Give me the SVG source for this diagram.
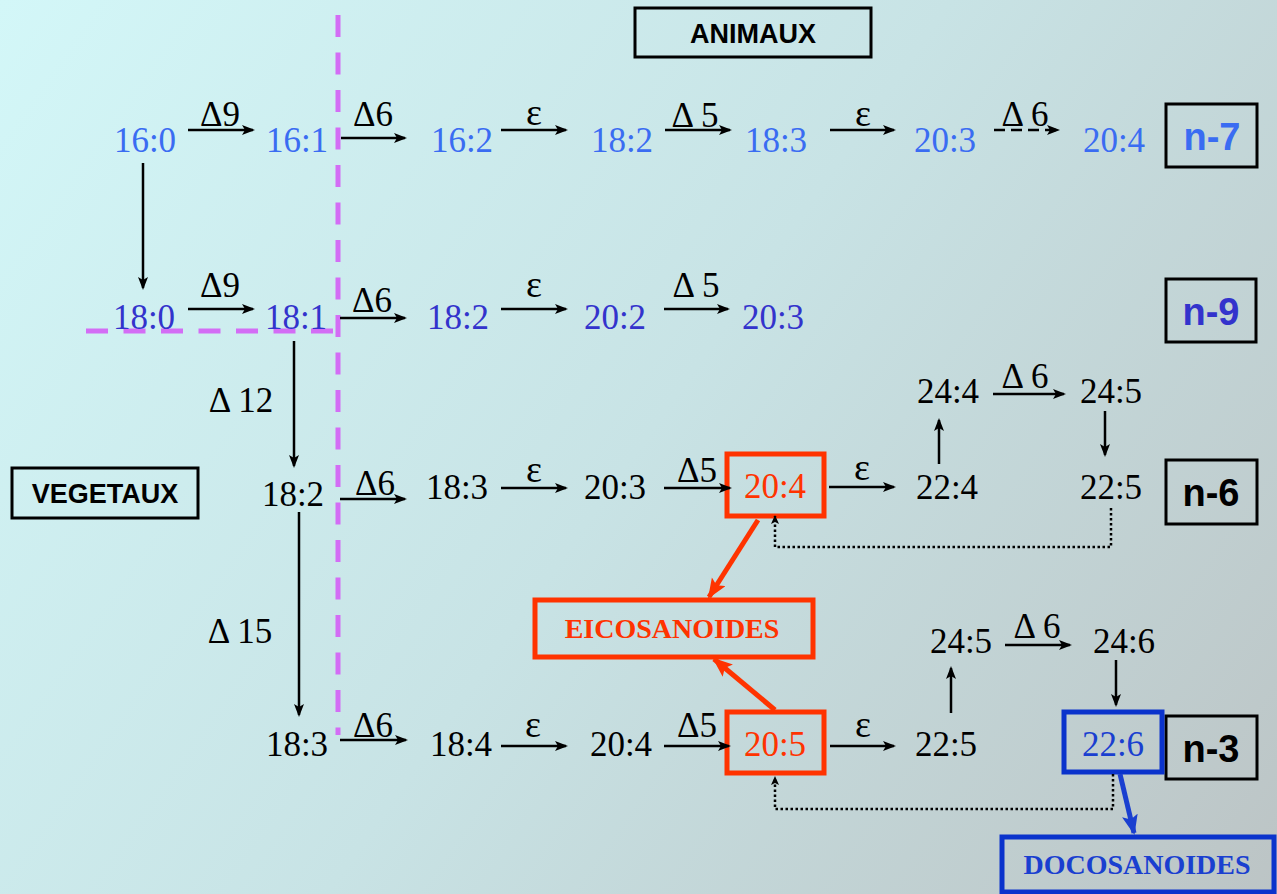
<svg xmlns="http://www.w3.org/2000/svg" width="1277" height="894" viewBox="0 0 1277 894">
<defs>
<linearGradient id="bg" gradientUnits="userSpaceOnUse" x1="0" y1="0" x2="1277" y2="894">
<stop offset="0" stop-color="#d3f7f8"/>
<stop offset="0.5" stop-color="#c8e3e5"/>
<stop offset="1" stop-color="#bcc4c5"/>
</linearGradient>
<marker id="ah" markerUnits="userSpaceOnUse" markerWidth="14" markerHeight="12" refX="11" refY="5" orient="auto">
<path d="M0,0 L13,5 L0,10 L3,5 Z" fill="#000"/>
</marker>
<marker id="ahs" markerUnits="userSpaceOnUse" markerWidth="10" markerHeight="10" refX="8" refY="4" orient="auto">
<path d="M0,0 L9,4 L0,8 L2,4 Z" fill="#000"/>
</marker>
<marker id="ahr" markerUnits="userSpaceOnUse" markerWidth="22" markerHeight="18" refX="18" refY="8" orient="auto">
<path d="M0,0 L20,8 L0,16 L4,8 Z" fill="#ff3300"/>
</marker>
<marker id="ahb" markerUnits="userSpaceOnUse" markerWidth="22" markerHeight="18" refX="18" refY="8" orient="auto">
<path d="M0,0 L20,8 L0,16 L4,8 Z" fill="#1a3fd0"/>
</marker>
</defs>
<style>
.n{font-family:"Liberation Serif","Times New Roman",serif;font-size:35px;text-anchor:middle}
.lab{font-family:"Liberation Serif","Times New Roman",serif;font-size:35px;text-anchor:middle;fill:#000}
.eps{font-family:"Liberation Serif","Times New Roman",serif;font-size:38px;text-anchor:middle;fill:#000}
.c1{fill:#3a6cf2}
.c2{fill:#3333cc}
.c3{fill:#000}
.cr{fill:#ff3300}
.cb{fill:#1a3fd0}
.tag{font-family:"Liberation Sans",Arial,sans-serif;font-weight:bold;font-size:38px;text-anchor:middle}
.hdr{font-family:"Liberation Sans",Arial,sans-serif;font-weight:bold;font-size:27px;text-anchor:middle;fill:#000}
.big{font-family:"Liberation Serif","Times New Roman",serif;font-weight:bold;font-size:28px;text-anchor:middle}
.box{fill:none;stroke:#000;stroke-width:3}
.rbox{fill:none;stroke:#ff3300;stroke-width:5}
.bbox{fill:none;stroke:#0a33cc;stroke-width:5}
.ar{stroke:#000;stroke-width:2.5;fill:none;marker-end:url(#ah)}
.dash{stroke:#000;stroke-width:2.5;fill:none;stroke-dasharray:11 6;marker-end:url(#ah)}
.dot{stroke:#000;stroke-width:2.5;fill:none;stroke-dasharray:2.5 2.5;marker-end:url(#ahs)}
.pur{stroke:#d36df5;stroke-width:5;fill:none;stroke-dasharray:22 15.5}
</style>
<rect width="1277" height="894" fill="url(#bg)"/>

<!-- separators -->
<g id="separators">
<line class="pur" x1="338" y1="15" x2="338" y2="735"/>
<line class="pur" x1="86" y1="331" x2="333" y2="331"/>
</g>

<!-- headers -->
<g id="animaux"><rect class="box" x="635" y="8" width="236" height="49"/><text class="hdr" x="753" y="43">ANIMAUX</text></g>
<g id="vegetaux"><rect class="box" x="12" y="468" width="186" height="50"/><text class="hdr" x="105" y="503">VEGETAUX</text></g>

<!-- family tags -->
<g id="tag-n7"><rect class="box" x="1166" y="104" width="91" height="63"/><text class="tag c1" x="1212" y="150">n-7</text></g>
<g id="tag-n9"><rect class="box" x="1166" y="279" width="90" height="63"/><text class="tag c2" x="1211" y="325">n-9</text></g>
<g id="tag-n6"><rect class="box" x="1166" y="460" width="91" height="64"/><text class="tag c3" x="1211" y="506">n-6</text></g>
<g id="tag-n3"><rect class="box" x="1166" y="716" width="91" height="63"/><text class="tag c3" x="1211" y="762">n-3</text></g>

<!-- row n-7 -->
<g id="r1-16-0"><text class="n c1" x="145" y="152">16:0</text></g>
<g id="r1-16-1"><text class="n c1" x="297" y="152">16:1</text></g>
<g id="r1-16-2"><text class="n c1" x="462" y="152">16:2</text></g>
<g id="r1-18-2"><text class="n c1" x="622" y="152">18:2</text></g>
<g id="r1-18-3"><text class="n c1" x="776" y="152">18:3</text></g>
<g id="r1-20-3"><text class="n c1" x="945" y="152">20:3</text></g>
<g id="r1-20-4"><text class="n c1" x="1114" y="152">20:4</text></g>

<!-- row n-9 -->
<g id="r2-18-0"><text class="n c2" x="144" y="329">18:0</text></g>
<g id="r2-18-1"><text class="n c2" x="296" y="329">18:1</text></g>
<g id="r2-18-2"><text class="n c2" x="458" y="329">18:2</text></g>
<g id="r2-20-2"><text class="n c2" x="615" y="329">20:2</text></g>
<g id="r2-20-3"><text class="n c2" x="773" y="329">20:3</text></g>

<!-- row n-6 -->
<g id="r3-18-2"><text class="n c3" x="293" y="506">18:2</text></g>
<g id="r3-18-3"><text class="n c3" x="457" y="499">18:3</text></g>
<g id="r3-20-3"><text class="n c3" x="615" y="499">20:3</text></g>
<g id="r3-20-4"><rect class="rbox" x="727" y="454" width="97" height="62"/><text class="n cr" x="775" y="498">20:4</text></g>
<g id="r3-22-4"><text class="n c3" x="947" y="499">22:4</text></g>
<g id="r3-24-4"><text class="n c3" x="948" y="403">24:4</text></g>
<g id="r3-24-5"><text class="n c3" x="1111" y="403">24:5</text></g>
<g id="r3-22-5"><text class="n c3" x="1111" y="499">22:5</text></g>

<!-- row n-3 -->
<g id="r4-18-3"><text class="n c3" x="297" y="756">18:3</text></g>
<g id="r4-18-4"><text class="n c3" x="461" y="756">18:4</text></g>
<g id="r4-20-4"><text class="n c3" x="621" y="756">20:4</text></g>
<g id="r4-20-5"><rect class="rbox" x="727" y="712" width="97" height="61"/><text class="n cr" x="775" y="756">20:5</text></g>
<g id="r4-22-5"><text class="n c3" x="946" y="756">22:5</text></g>
<g id="r4-24-5"><text class="n c3" x="961" y="653">24:5</text></g>
<g id="r4-24-6"><text class="n c3" x="1124" y="653">24:6</text></g>
<g id="r4-22-6"><rect class="bbox" x="1064" y="712" width="98" height="60"/><text class="n cb" x="1113" y="756">22:6</text></g>

<!-- products -->
<g id="eicosanoides"><rect class="rbox" x="535" y="600" width="278" height="57"/><text class="big cr" x="672" y="638">EICOSANOIDES</text></g>
<g id="docosanoides"><rect class="bbox" x="1002" y="837" width="272" height="55"/><text class="big cb" x="1137" y="874">DOCOSANOIDES</text></g>

<!-- connectors -->
<g id="connectors">
<!-- row n-7 -->
<line class="ar" x1="188" y1="130" x2="253" y2="130"/>
<text class="lab" x="220" y="126">Δ9</text>
<line class="ar" x1="341" y1="138" x2="405" y2="138"/>
<text class="lab" x="373" y="126">Δ6</text>
<line class="ar" x1="501" y1="130" x2="566" y2="130"/>
<text class="eps" x="534" y="125">ε</text>
<line class="ar" x1="665" y1="130" x2="730" y2="130"/>
<text class="lab" x="695" y="127">Δ 5</text>
<line class="ar" x1="830" y1="130" x2="894" y2="130"/>
<text class="eps" x="863" y="126">ε</text>
<line class="dash" x1="994" y1="130" x2="1058" y2="130"/>
<text class="lab" x="1025" y="126">Δ 6</text>
<!-- vertical left -->
<line class="ar" x1="143" y1="163" x2="143" y2="288"/>
<!-- row n-9 -->
<line class="ar" x1="188" y1="309" x2="253" y2="309"/>
<text class="lab" x="220" y="297">Δ9</text>
<line class="ar" x1="340" y1="318" x2="405" y2="318"/>
<text class="lab" x="372" y="312">Δ6</text>
<line class="ar" x1="501" y1="309" x2="566" y2="309"/>
<text class="eps" x="534" y="297">ε</text>
<line class="ar" x1="664" y1="309" x2="728" y2="309"/>
<text class="lab" x="696" y="297">Δ 5</text>
<!-- verticals -->
<line class="ar" x1="294" y1="341" x2="294" y2="466"/>
<text class="lab" x="241" y="412">Δ 12</text>
<line class="ar" x1="299" y1="512" x2="299" y2="715"/>
<text class="lab" x="240" y="643">Δ 15</text>
<!-- row n-6 -->
<line class="ar" x1="340" y1="499" x2="405" y2="499"/>
<text class="lab" x="375" y="495">Δ6</text>
<line class="ar" x1="501" y1="488" x2="566" y2="488"/>
<text class="eps" x="534" y="482">ε</text>
<line class="ar" x1="664" y1="488" x2="730" y2="488"/>
<text class="lab" x="697" y="482">Δ5</text>
<line class="ar" x1="829" y1="487" x2="894" y2="487"/>
<text class="eps" x="862" y="480">ε</text>
<line class="ar" x1="939" y1="464" x2="939" y2="420"/>
<line class="ar" x1="993" y1="394" x2="1064" y2="394"/>
<text class="lab" x="1025" y="388">Δ 6</text>
<line class="ar" x1="1105" y1="411" x2="1105" y2="455"/>
<polyline class="dot" points="1111,508 1111,547 775,547 775,516"/>
<!-- row n-3 -->
<line class="ar" x1="340" y1="740" x2="406" y2="740"/>
<text class="lab" x="373" y="737">Δ6</text>
<line class="ar" x1="501" y1="746" x2="566" y2="746"/>
<text class="eps" x="533" y="737">ε</text>
<line class="ar" x1="664" y1="746" x2="729" y2="746"/>
<text class="lab" x="697" y="737">Δ5</text>
<line class="ar" x1="830" y1="746" x2="894" y2="746"/>
<text class="eps" x="863" y="737">ε</text>
<line class="ar" x1="951" y1="713" x2="951" y2="668"/>
<line class="ar" x1="1005" y1="645" x2="1070" y2="645"/>
<text class="lab" x="1037" y="638">Δ 6</text>
<line class="ar" x1="1116" y1="660" x2="1116" y2="705"/>
<polyline class="dot" points="1113,774 1113,809 775,809 775,777"/>
<!-- products -->
<line stroke="#ff3300" stroke-width="5" marker-end="url(#ahr)" x1="758" y1="520" x2="709" y2="597"/>
<line stroke="#ff3300" stroke-width="5" marker-end="url(#ahr)" x1="775" y1="710" x2="714" y2="659"/>
<line stroke="#1a3fd0" stroke-width="5" marker-end="url(#ahb)" x1="1120" y1="774" x2="1134" y2="833"/>
</g>
</svg>
